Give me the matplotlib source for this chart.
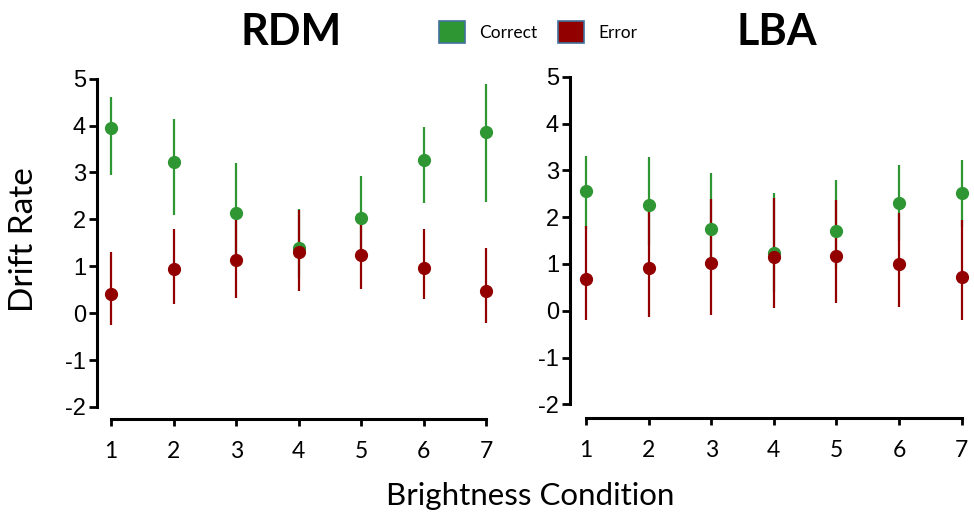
import matplotlib.pyplot as plt
import numpy as np
from matplotlib.patches import Patch

plt.rcParams["axes.unicode_minus"] = False

# conditions de luminosite
conditions = [1, 2, 3, 4, 5, 6, 7]

# RDM : drift rates (moyenne, borne basse, borne haute)
rdm_correct = [3.94, 3.23, 2.14, 1.39, 2.02, 3.26, 3.87]
rdm_correct_lo = [2.94, 2.09, 1.20, 0.75, 1.20, 2.34, 2.37]
rdm_correct_hi = [4.62, 4.13, 3.21, 2.23, 2.92, 3.97, 4.88]
rdm_error = [0.40, 0.95, 1.14, 1.30, 1.24, 0.97, 0.48]
rdm_error_lo = [-0.25, 0.20, 0.33, 0.48, 0.51, 0.31, -0.21]
rdm_error_hi = [1.30, 1.80, 2.09, 2.19, 2.04, 1.80, 1.38]

# LBA
lba_correct = [2.56, 2.27, 1.74, 1.24, 1.71, 2.31, 2.52]
lba_correct_lo = [1.75, 1.40, 0.90, 0.40, 0.90, 1.50, 1.80]
lba_correct_hi = [3.31, 3.29, 2.95, 2.51, 2.80, 3.11, 3.21]
lba_error = [0.68, 0.91, 1.03, 1.14, 1.18, 1.00, 0.73]
lba_error_lo = [-0.20, -0.14, -0.10, 0.06, 0.16, 0.09, -0.19]
lba_error_hi = [1.82, 2.24, 2.38, 2.41, 2.36, 2.09, 1.94]

vert = "#2e9632"
rouge = "#930000"
W, H = 974, 513

fig = plt.figure(figsize=(W / 100, H / 100), dpi=100)


def panneau(rect, xlim, ylim, titre, titre_x, series):
    ax = fig.add_axes(rect)
    x = np.array(conditions)
    for k, (m, lo, hi, c) in enumerate(series):
        m = np.array(m)
        err = [m - np.array(lo), np.array(hi) - m]
        ax.errorbar(x, m, yerr=err, fmt="none", ecolor=c, elinewidth=1.6, zorder=2 + k)
    for k, (m, lo, hi, c) in enumerate(series):
        ax.plot(x, m, "o", color=c, markersize=8.5, zorder=5 + k)
    ax.set_xlim(*xlim)
    ax.set_ylim(*ylim)
    ax.spines["top"].set_visible(False)
    ax.spines["right"].set_visible(False)
    ax.spines["left"].set_bounds(-2, 5)
    ax.spines["bottom"].set_bounds(1, 7)
    ax.spines["left"].set_linewidth(2.2)
    ax.spines["bottom"].set_linewidth(2.2)
    ax.set_yticks(range(-2, 6))
    ax.set_xticks(conditions)
    ax.tick_params(axis="y", length=6, width=2, labelsize=17, pad=2)
    ax.tick_params(axis="x", length=5, width=2, labelsize=16.5, pad=11)
    for t in ax.get_yticklabels():
        t.set_fontfamily("Liberation Sans")
    for t in ax.get_xticklabels():
        t.set_fontfamily("Lato")
    fig.text(titre_x / W, 1 - 32 / H, titre, ha="center", va="center",
             fontsize=31, fontweight="bold", family="Lato")
    return ax


panneau([97 / W, 94 / H, 402 / W, 345 / H], (0.776, 7.2), (-2.256, 5.1), "RDM", 291,
        [(rdm_correct, rdm_correct_lo, rdm_correct_hi, vert),
         (rdm_error, rdm_error_lo, rdm_error_hi, rouge)])
panneau([570 / W, 95 / H, 401 / W, 346 / H], (0.744, 7.15), (-2.29, 5.1), "LBA", 777,
        [(lba_correct, lba_correct_lo, lba_correct_hi, vert),
         (lba_error, lba_error_lo, lba_error_hi, rouge)])

fig.text(530 / W, 1 - 496 / H, "Brightness Condition", ha="center", va="center",
         fontsize=22.5, family="Lato")
fig.text(24 / W, 1 - 240 / H, "Drift Rate", ha="center", va="center",
         rotation=90, fontsize=24, family="Lato")

handles = [Patch(facecolor=vert, edgecolor="#41719c", linewidth=1.2),
           Patch(facecolor=rouge, edgecolor="#41719c", linewidth=1.2)]
fig.legend(handles, ["Correct", "Error"], loc="center", bbox_to_anchor=(538 / W, 1 - 32 / H),
           ncol=2, frameon=False, handlelength=1.5, handleheight=1.5, columnspacing=1.2,
           prop={"family": "Lato", "size": 12.5})

plt.savefig("out.png", dpi=100)
